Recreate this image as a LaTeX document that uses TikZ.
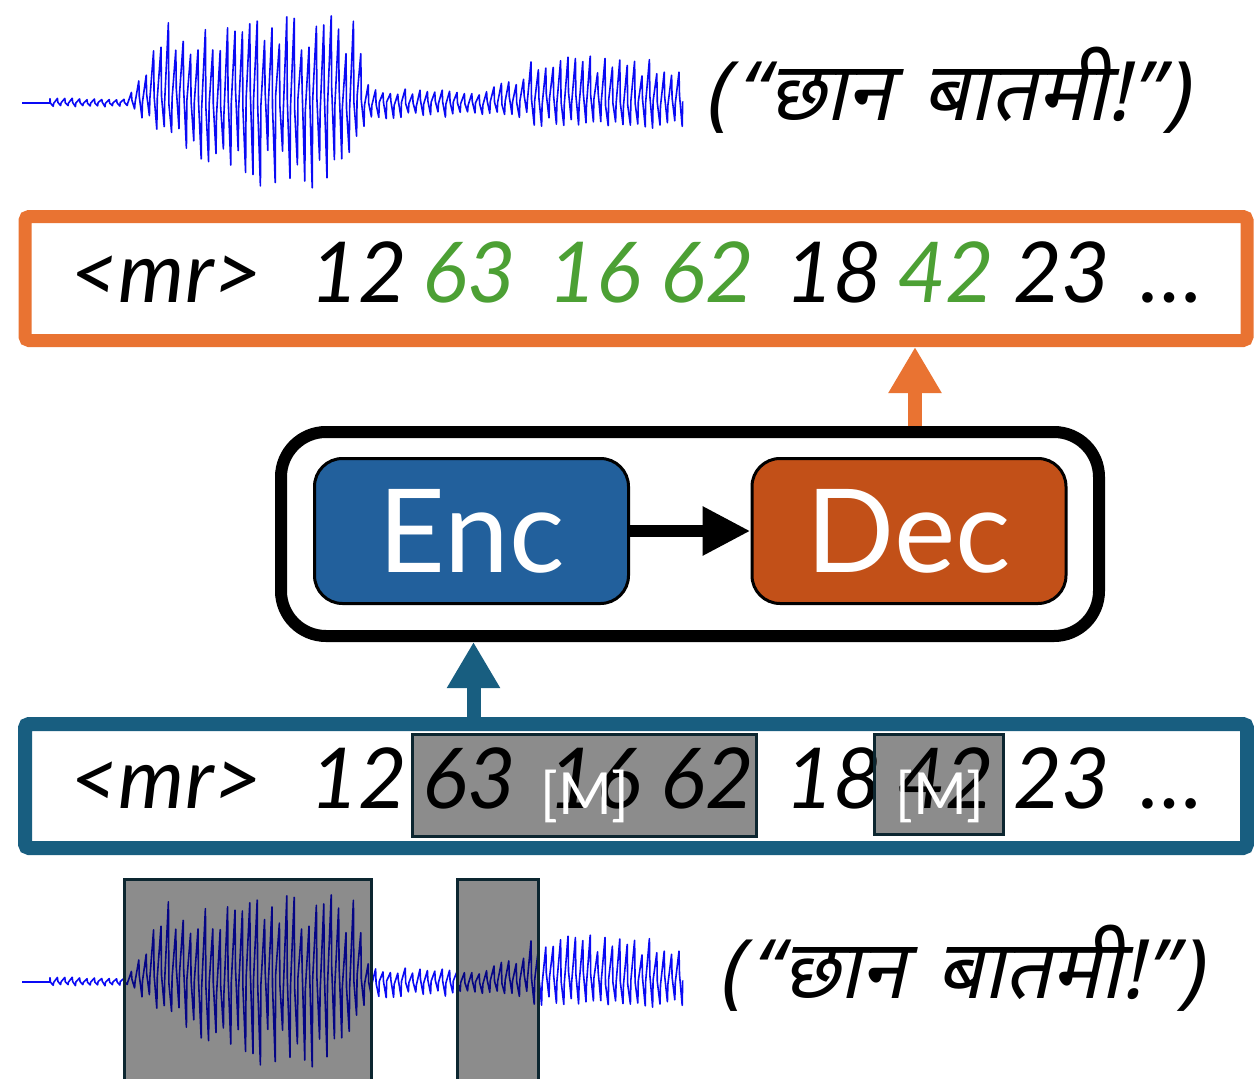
\documentclass[tikz,border=0pt]{standalone}
\usepackage{fontspec}
\setmainfont{Lato}
\newfontfamily\deva[Script=Devanagari,FakeSlant=0.22]{Noto Sans}
\usetikzlibrary{arrows.meta}
\definecolor{borange}{RGB}{233,115,50}
\definecolor{tgreen}{RGB}{76,160,52}
\definecolor{encblue}{RGB}{34,96,156}
\definecolor{decorange}{RGB}{194,80,24}
\definecolor{bblue}{RGB}{24,94,128}
\definecolor{maskborder}{RGB}{12,38,48}
\definecolor{wblue}{RGB}{10,10,245}
% ---- synthetic waveform (relative to its centre line) ----
\gdef\wavepts{(22,0) (50,0)}
\pgfmathsetseed{11}
\foreach \j in {0,...,85}{%
  \foreach \o/\p in {0/0,0.5/1,3.2/2,3.7/3}{%
    \pgfmathsetmacro\xx{50+\j*7.4+\o}%
    \pgfmathsetmacro\U{ifthenelse(\xx<128,5,ifthenelse(\xx<165,5+(\xx-128)*2.3,ifthenelse(\xx<355,88,ifthenelse(\xx<372,88-(\xx-355)*4.3,ifthenelse(\xx<490,14,ifthenelse(\xx<540,14+(\xx-490)*0.7,47))))))}%
    \pgfmathsetmacro\D{ifthenelse(\xx<128,4,ifthenelse(\xx<230,4+(\xx-128)*0.8,ifthenelse(\xx<345,86,ifthenelse(\xx<372,86-(\xx-345)*2.6,ifthenelse(\xx<530,16,26)))))}%
    \pgfmathsetmacro\yy{ifthenelse(\p==0,-\U*(0.55+0.45*rnd),ifthenelse(\p==2,\D*(0.55+0.45*rnd),ifthenelse(\p==1,-0.3*\U*rnd+0.1*\D,0.3*\D*rnd-0.1*\U)))}%
    \xdef\wavepts{\wavepts (\xx,\yy)}%
  }%
}
\begin{document}
\begin{tikzpicture}[x=1pt,y=-1pt,
  wave/.style={draw=wblue,line width=1.6pt,line join=round},
  seqbox/.style={draw,fill=white,rounded corners=4pt,minimum width=1222pt,minimum height=124pt,inner sep=0pt},
  block/.style={draw=black,line width=3pt,rounded corners=28pt,minimum width=314pt,minimum height=145pt,text=white,font=\fontsize{116}{120}\selectfont},
  tok/.style={anchor=base west,inner sep=0pt,font=\itshape\fontsize{84}{90}\selectfont},
  mask/.style={draw=maskborder,line width=3pt,fill=black,fill opacity=0.45,inner sep=0pt},
  mtext/.style={text=white,font=\fontsize{58}{62}\selectfont,inner sep=0pt},
  devtext/.style={anchor=west,inner sep=0pt,font=\deva\fontsize{82}{86}\selectfont},
  bigarrow/.style={line width=14pt,-{Triangle[length=46pt,width=50pt]}}
]
\useasboundingbox (0,0) rectangle (1254,1079);

% waveforms
\begin{scope}[shift={(0,103)}]
  \draw[wave] plot coordinates {\wavepts};
\end{scope}
\begin{scope}[shift={(0,982)}]
  \draw[wave] plot coordinates {\wavepts};
\end{scope}

% transcripts
\node[devtext] (transtop) at (704,90) {(\hspace{8pt}“\hspace{2pt}छान\hspace{30pt}बातमी!\hspace{2pt}”\hspace{3pt})};
\node[devtext] (transbot) at (718,968) {(\hspace{8pt}“\hspace{2pt}छान\hspace{30pt}बातमी!\hspace{2pt}”\hspace{3pt})};

% output token box
\node[seqbox,draw=borange,line width=13pt] (obox) at (636,278.5) {};
\foreach \x/\t/\c/\n in {70/{<mr>}/black/1,310/12/black/2,422/63/tgreen/3,548/16/tgreen/4,660/62/tgreen/5,785/18/black/6,897/42/tgreen/7,1013/23/black/8,1140/{\ldots}/black/9}
  \node[tok,text=\c] (otok\n) at (\x,302) {\t};

% input token box
\node[seqbox,draw=bblue,line width=14pt] (bbox) at (636,786) {};
\foreach \x/\t/\n in {70/{<mr>}/1,310/12/2,422/63/3,548/16/4,660/62/5,785/18/6,897/42/7,1013/23/8,1140/{\ldots}/9}
  \node[tok,text=black] (itok\n) at (\x,808) {\t};
\node[mask,minimum width=344pt,minimum height=102pt] (m1) at (584.5,785.5) {};
\node[mask,minimum width=129pt,minimum height=100pt] (m2) at (939,784.5) {};
\node[mtext] (m1t) at (585,796) {[M]};
\node[mtext] (m2t) at (940,796) {[M]};

% model
\node[draw=black,line width=12pt,rounded corners=45pt,minimum width=818pt,minimum height=204pt,inner sep=0pt] (model) at (690,534) {};
\node[block,fill=encblue] (enc) at (471.5,531) {Enc};
\node[block,fill=decorange] (dec) at (909,531) {Dec};
\draw[line width=12pt,-{Triangle[length=48pt,width=46pt]}] (enc.east) -- (dec.west);

% arrows
\draw[bigarrow,draw=borange,fill=borange] ([xshift=6pt]model.north -| dec.north) -- ([xshift=6pt]obox.south -| dec.north);
\draw[bigarrow,draw=bblue,fill=bblue] ([xshift=2pt]bbox.north -| enc.south) -- ([xshift=2pt]model.south -| enc.south);

% audio masks
\node[mask,minimum width=247pt,minimum height=220pt] (am1) at (248,989.75) {};
\node[mask,minimum width=81pt,minimum height=220pt] (am2) at (498,989.75) {};
\end{tikzpicture}
\end{document}
